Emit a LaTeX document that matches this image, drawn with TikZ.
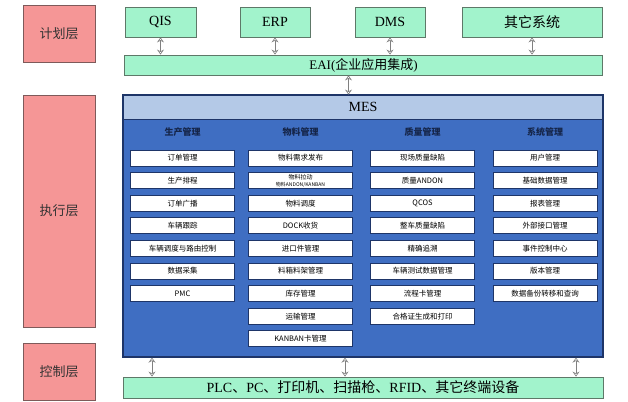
\documentclass[tikz,border=0pt]{standalone}
\usepackage{fontspec}
\setmainfont{Liberation Serif}
\newfontfamily\cjk{Noto Sans CJK SC}
\usetikzlibrary{arrows.meta}
\usepackage{xcolor}

\definecolor{layerred}{HTML}{F59696}
\definecolor{layeredge}{HTML}{7E5A5A}
\definecolor{sysgreen}{HTML}{A2F3CC}
\definecolor{sysedge}{HTML}{5E7868}
\definecolor{meshead}{HTML}{B4C9E7}
\definecolor{mesbody}{HTML}{3F6EC2}
\definecolor{celledge}{HTML}{1E3568}

\begin{document}
\begin{tikzpicture}[x=1pt,y=-1pt,%
	layer/.style={draw=layeredge,fill=layerred,thick,minimum width=72pt,text=black!80,font=\cjk\fontsize{13}{13}\selectfont},
	sys/.style={draw=sysedge,fill=sysgreen,thick,minimum height=30pt,font=\fontsize{14}{14}\selectfont},
	bar/.style={draw=sysedge,fill=sysgreen,thick,minimum width=478pt,inner sep=0pt},
	cell/.style={draw=celledge,fill=white,thick,minimum width=104pt,minimum height=16pt,inner sep=1pt,align=center,font=\cjk\fontsize{7.5}{8}\selectfont},
	colhead/.style={text=celledge!70!black,font=\cjk\bfseries\fontsize{9}{9}\selectfont},
	link/.style={{Stealth[open,length=5pt,width=7pt]}-{Stealth[open,length=5pt,width=7pt]},gray,semithick}]

	\useasboundingbox (0,0) rectangle (628,401);

	% layers on the left
	\node[layer,minimum height=57pt] (plan) at (59,33.5) {计划层};
	\node[layer,minimum height=232pt] (exec) at (59,211) {执行层};
	\node[layer,minimum height=57pt] (ctrl) at (59,371.5) {控制层};

	% planning systems
	\foreach \name/\x/\w [count=\i] in {QIS/160.5/71,ERP/275/70,DMS/390/70,{\cjk 其它系统}/532/140}
	   { \node[sys,minimum width=\w pt] (s-\i) at (\x,22) {\name}; }
	\node[bar,minimum height=20pt,font=\fontsize{13}{13}\selectfont] (eai) at (363.5,65) {EAI({\cjk 企业应用集成})};
	\foreach \i in {1,...,4} \draw[link] (s-\i.south) -- (s-\i.south |- eai.north);

	% MES
	\node[draw=celledge,very thick,fill=mesbody,minimum width=480pt,minimum height=262pt] (mes) at (363,226) {};
	\node[draw=celledge,thick,fill=meshead,minimum width=479pt,minimum height=24pt,font=\fontsize{14}{14}\selectfont] (meshd) at (363,107) {MES};
	\draw[link] ([xshift=-15pt]eai.south) -- ([xshift=-15pt]eai.south |- meshd.north);

	\foreach \title/\x/\c [count=\i] in {生产管理/182.5/p,物料管理/300.5/w,质量管理/422.5/q,系统管理/545/x}
	   { \node[colhead] (h-\c) at (\x,132) {\title}; }

	\foreach \txt [count=\i] in {订单管理,生产排程,订单广播,车辆跟踪,车辆调度与路由控制,数据采集,PMC}
	   { \node[cell] (p-\i) at (182.5,{158+(\i-1)*22.6}) {\txt}; }
	\foreach \txt [count=\i] in {物料需求发布,{{\fontsize{6}{6}\selectfont 物料拉动}\\[-1pt]{\fontsize{5}{5}\selectfont 物料ANDON/KANBAN}},物料调度,DOCK收货,进口件管理,料箱料架管理,库存管理,运输管理,KANBAN卡管理}
	   { \node[cell] (w-\i) at (300.5,{158+(\i-1)*22.6}) {\txt}; }
	\foreach \txt [count=\i] in {现场质量缺陷,质量ANDON,QCOS,整车质量缺陷,精确追溯,车辆测试数据管理,流程卡管理,合格证生成和打印}
	   { \node[cell] (q-\i) at (422.5,{158+(\i-1)*22.6}) {\txt}; }
	\foreach \txt [count=\i] in {用户管理,基础数据管理,报表管理,外部接口管理,事件控制中心,版本管理,数据备份转移和查询}
	   { \node[cell] (x-\i) at (545,{158+(\i-1)*22.6}) {\txt}; }

	% control devices
	\node[bar,minimum width=480pt,minimum height=21pt,font=\fontsize{14}{14}\selectfont] (dev) at (363,387.5)
	   {PLC{\cjk 、}PC{\cjk 、打印机、扫描枪、}RFID{\cjk 、其它终端设备}};
	\foreach \x [count=\i] in {152,345,576}
	   { \coordinate (b-\i) at (\x,0);
	     \draw[link] (mes.south -| b-\i) -- (dev.north -| b-\i); }
\end{tikzpicture}
\end{document}
